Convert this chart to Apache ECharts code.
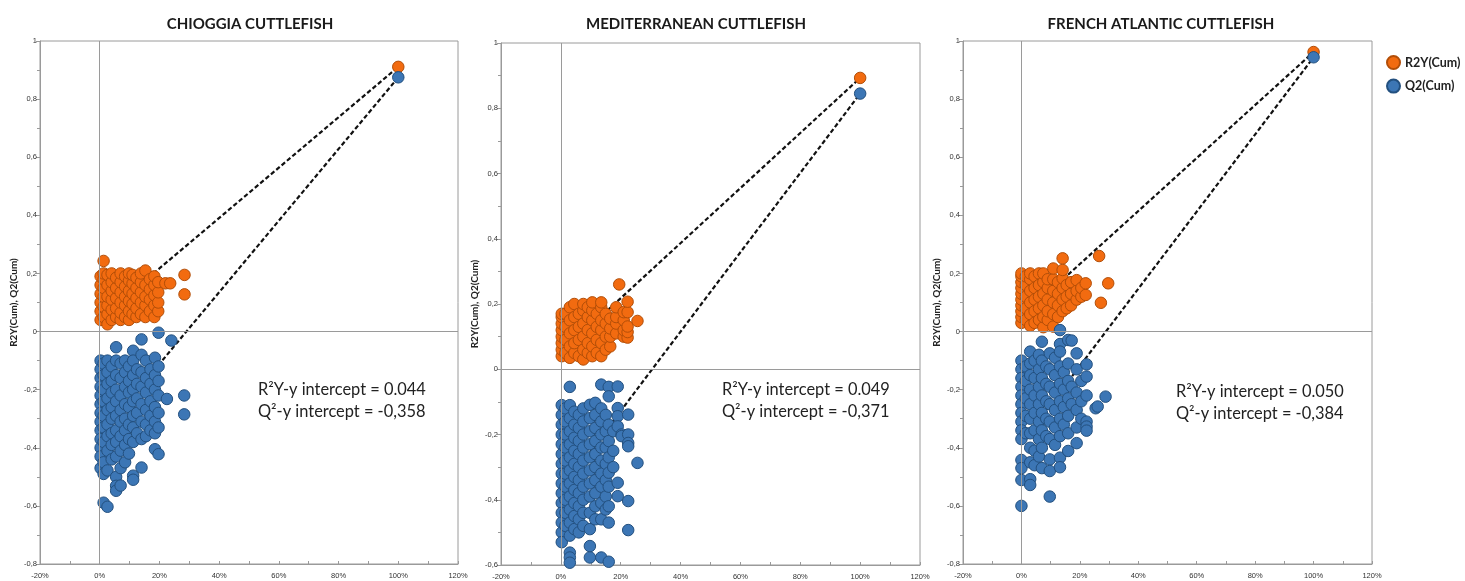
<!DOCTYPE html>
<html>
<head>
<meta charset="utf-8">
<script src="https://cdn.jsdelivr.net/npm/echarts@6/dist/echarts.min.js"></script>
<style>html,body{margin:0;padding:0;background:#fff;}#c{width:1465px;height:581px;}</style>
</head>
<body>
<div id="c"></div>
<script>
// ---------- DATA ----------
const panelTitles = ['CHIOGGIA CUTTLEFISH', 'MEDITERRANEAN CUTTLEFISH', 'FRENCH ATLANTIC CUTTLEFISH'];
const seriesNames = ['R2Y(Cum)', 'Q2(Cum)'];
const yAxisName = 'R2Y(Cum), Q2(Cum)';
const yMins = [-0.8, -0.6, -0.8];

// intercepts [R2Y, Q2]
const chioggiaIntercepts = [0.044, -0.358];
const medIntercepts = [0.049, -0.371];
const atlanticIntercepts = [0.050, -0.384];

// original model [R2Y, Q2] at 100%
const chioggiaOriginal = [0.911, 0.875];
const medOriginal = [0.893, 0.845];
const atlanticOriginal = [0.962, 0.944];

// permutation points: [x (%), [y values]]
const chioggiaR2Y = [
 [0.3,[0.04,0.07,0.10,0.13,0.16,0.19]],
 [1.3,[0.05,0.085,0.12,0.15,0.18,0.20,0.243]],
 [2.6,[0.025,0.06,0.09,0.12,0.16,0.195]],
 [4,[0.04,0.075,0.11,0.14,0.17,0.20]],
 [5.5,[0.05,0.08,0.115,0.15,0.185]],
 [7,[0.04,0.065,0.10,0.135,0.17,0.20]],
 [8.5,[0.05,0.09,0.12,0.155,0.19]],
 [9.8,[0.04,0.07,0.105,0.14,0.175,0.20]],
 [11,[0.06,0.095,0.13,0.165,0.195]],
 [12.3,[0.05,0.08,0.115,0.15,0.185]],
 [13.8,[0.06,0.10,0.135,0.17,0.20]],
 [15.3,[0.05,0.09,0.12,0.16,0.21]],
 [16.8,[0.07,0.11,0.145,0.18]],
 [18.3,[0.05,0.09,0.125,0.16,0.19]],
 [19.6,[0.07,0.10,0.135,0.17]],
 [22,[0.166]],[23.6,[0.166]],[28.4,[0.195,0.128]]
];
const chioggiaQ2 = [
 [0.3,[-0.10,-0.13,-0.16,-0.19,-0.22,-0.25,-0.28,-0.31,-0.34,-0.37,-0.40,-0.43,-0.47]],
 [1.3,[-0.11,-0.15,-0.20,-0.24,-0.29,-0.33,-0.38,-0.45,-0.49,-0.589]],
 [2.6,[-0.10,-0.14,-0.18,-0.23,-0.27,-0.32,-0.36,-0.41,-0.478,-0.603]],
 [4,[-0.12,-0.17,-0.21,-0.26,-0.30,-0.35,-0.39,-0.44]],
 [5.5,[-0.054,-0.10,-0.15,-0.20,-0.24,-0.29,-0.34,-0.38,-0.43,-0.50,-0.531,-0.548]],
 [7,[-0.11,-0.16,-0.22,-0.27,-0.31,-0.36,-0.41,-0.47,-0.53]],
 [8.5,[-0.10,-0.14,-0.19,-0.25,-0.30,-0.34,-0.39,-0.45]],
 [9.8,[-0.12,-0.17,-0.21,-0.26,-0.32,-0.37,-0.42]],
 [11.2,[-0.066,-0.10,-0.15,-0.20,-0.24,-0.29,-0.33,-0.38,-0.496,-0.51]],
 [12.5,[-0.13,-0.18,-0.23,-0.28,-0.35]],
 [14,[-0.027,-0.08,-0.14,-0.19,-0.25,-0.31,-0.37,-0.468]],
 [15.5,[-0.10,-0.16,-0.21,-0.27,-0.32,-0.36]],
 [17,[-0.13,-0.18,-0.24,-0.29,-0.34]],
 [18.5,[-0.09,-0.15,-0.20,-0.26,-0.31,-0.35,-0.405]],
 [19.7,[-0.004,-0.12,-0.17,-0.22,-0.28,-0.33,-0.422]],
 [22.5,[-0.232]],[24,[-0.031]],[28.3,[-0.22,-0.285]]
];
const medR2Y = [
 [0.3,[0.04,0.06,0.08,0.10,0.12,0.14,0.16,0.17]],
 [1.5,[0.05,0.09,0.13,0.17]],
 [3,[0.035,0.07,0.11,0.15,0.19]],
 [4.5,[0.05,0.08,0.12,0.16,0.20]],
 [6,[0.04,0.09,0.13,0.17]],
 [7.5,[0.03,0.06,0.10,0.14,0.18,0.20]],
 [9,[0.05,0.08,0.12,0.16,0.19]],
 [10.5,[0.04,0.07,0.11,0.15,0.18,0.205]],
 [12,[0.05,0.09,0.13,0.17]],
 [13.5,[0.04,0.08,0.12,0.15,0.19,0.205]],
 [15,[0.06,0.10,0.14,0.17]],
 [16.5,[0.07,0.10,0.125,0.155]],
 [18.5,[0.11,0.14,0.16,0.19]],
 [19.5,[0.26]],
 [21,[0.10,0.12,0.15,0.175]],
 [22.3,[0.097,0.114,0.131,0.175,0.207]],
 [25.6,[0.148]]
];
const medQ2 = [
 [0.3,[-0.11,-0.14,-0.17,-0.20,-0.23,-0.26,-0.29,-0.32,-0.35,-0.38,-0.41,-0.44,-0.47,-0.50,-0.53]],
 [1.5,[-0.12,-0.16,-0.20,-0.24,-0.28,-0.32,-0.36,-0.40,-0.44,-0.48]],
 [3,[-0.054,-0.11,-0.15,-0.19,-0.23,-0.27,-0.31,-0.35,-0.39,-0.43,-0.47,-0.51,-0.562,-0.577,-0.593]],
 [4.5,[-0.13,-0.17,-0.21,-0.25,-0.29,-0.33,-0.37,-0.41,-0.45,-0.49]],
 [6,[-0.14,-0.18,-0.22,-0.26,-0.30,-0.34,-0.38,-0.42,-0.46,-0.50]],
 [7.5,[-0.12,-0.16,-0.20,-0.24,-0.28,-0.32,-0.36,-0.40,-0.44,-0.48]],
 [9.7,[-0.109,-0.15,-0.19,-0.23,-0.27,-0.31,-0.35,-0.39,-0.44,-0.49,-0.542,-0.577]],
 [11.5,[-0.103,-0.14,-0.18,-0.22,-0.26,-0.30,-0.34,-0.38,-0.42,-0.46]],
 [13.5,[-0.047,-0.12,-0.16,-0.20,-0.24,-0.28,-0.32,-0.36,-0.41,-0.46,-0.577]],
 [15,[-0.14,-0.19,-0.24,-0.29,-0.34,-0.39,-0.43]],
 [16,[-0.054,-0.083,-0.17,-0.22,-0.27,-0.317,-0.36,-0.42,-0.47,-0.59]],
 [17.5,[-0.19,-0.25,-0.30]],
 [19,[-0.053,-0.119,-0.144,-0.175,-0.348,-0.389]],
 [20.3,[-0.20,-0.205]],
 [22.5,[-0.139,-0.20,-0.226,-0.236,-0.404,-0.493]],
 [25.6,[-0.287]]
];
const atlanticR2Y = [
 [0,[0.03,0.05,0.07,0.09,0.11,0.13,0.15,0.17,0.19,0.20]],
 [1.5,[0.04,0.08,0.12,0.16,0.19]],
 [3,[0.02,0.06,0.10,0.14,0.18,0.20]],
 [4.5,[0.03,0.07,0.11,0.15,0.19]],
 [6,[0.04,0.08,0.12,0.16,0.20]],
 [7.5,[0.015,0.05,0.09,0.13,0.17,0.20]],
 [9,[0.04,0.07,0.11,0.15,0.18]],
 [10.9,[0.017,0.06,0.10,0.14,0.18,0.217]],
 [12.5,[0.05,0.09,0.13,0.17]],
 [14.1,[0.07,0.11,0.15,0.183,0.212,0.252]],
 [15.5,[0.08,0.12,0.16]],
 [17,[0.09,0.13,0.17]],
 [18.9,[0.11,0.14,0.177]],
 [20.5,[0.12,0.15]],
 [22,[0.126,0.166]],
 [26.6,[0.26]],[27.2,[0.099]],[29.7,[0.166]]
];
const atlanticQ2 = [
 [0,[-0.10,-0.13,-0.16,-0.19,-0.22,-0.25,-0.28,-0.31,-0.34,-0.37,-0.442,-0.47,-0.511,-0.60]],
 [1.5,[-0.12,-0.17,-0.23,-0.29,-0.35]],
 [3,[-0.069,-0.11,-0.15,-0.20,-0.25,-0.30,-0.35,-0.40,-0.45,-0.508,-0.528]],
 [4.5,[-0.10,-0.16,-0.22,-0.28,-0.34,-0.41,-0.46]],
 [6,[-0.08,-0.13,-0.19,-0.25,-0.31,-0.37,-0.43]],
 [7,[-0.035,-0.10,-0.16,-0.22,-0.28,-0.34,-0.40,-0.47]],
 [8.5,[-0.12,-0.18,-0.24,-0.30,-0.36]],
 [9.7,[-0.075,-0.13,-0.19,-0.25,-0.31,-0.37,-0.44,-0.48,-0.568]],
 [11.5,[-0.09,-0.15,-0.21,-0.27,-0.33,-0.39]],
 [13.2,[0.005,-0.043,-0.069,-0.12,-0.18,-0.24,-0.30,-0.36,-0.434,-0.467]],
 [14.5,[-0.14,-0.20,-0.26,-0.32]],
 [16,[-0.029,-0.11,-0.17,-0.23,-0.29,-0.35,-0.411]],
 [17.2,[-0.031,-0.19,-0.25]],
 [18.9,[-0.075,-0.13,-0.21,-0.27,-0.33,-0.384]],
 [20.5,[-0.17,-0.24,-0.30]],
 [22.3,[-0.113,-0.155,-0.22,-0.31,-0.327,-0.341]],
 [25.4,[-0.264]],[26.1,[-0.258]],[28.8,[-0.224]]
];

// ---------- BUILD ----------
const panels = [
 {r2: chioggiaR2Y, q2: chioggiaQ2, icpt: chioggiaIntercepts, orig: chioggiaOriginal},
 {r2: medR2Y, q2: medQ2, icpt: medIntercepts, orig: medOriginal},
 {r2: atlanticR2Y, q2: atlanticQ2, icpt: atlanticIntercepts, orig: atlanticOriginal}
];
const grids = [
 {left: 40, top: 41, width: 418, height: 523},
 {left: 501, top: 43, width: 419, height: 523},
 {left: 963, top: 41, width: 409, height: 523}
];
const titleX = [245, 691, 1156];
const annot = [[258, 379], [722, 379], [1176, 381]];

const ORANGE = '#F26B10', ORANGE_B = '#B24E08';
const BLUE = '#3C76B5', BLUE_B = '#23507F';
const AXC = '#9a9a9a';
const FONT = 'Lato, "Open Sans", sans-serif';

function flatten(cols) {
  const out = [];
  cols.forEach(([x, ys]) => ys.forEach(y => out.push([x, y])));
  return out;
}

const option = {
  backgroundColor: '#fff',
  animation: false,
  title: panelTitles.map((t, i) => ({
    text: t, left: titleX[i], top: 12, textAlign: 'center',
    textStyle: {fontFamily: FONT, fontWeight: 'bold', fontSize: 15, color: '#1a1a1a'}
  })),
  legend: {
    data: seriesNames, orient: 'vertical', left: 1381, top: 50,
    icon: 'circle', itemWidth: 13, itemHeight: 13, itemGap: 8.6,
    textStyle: {fontFamily: FONT, fontWeight: 'bold', fontSize: 12.5, color: '#222'}
  },
  grid: grids.map(g => Object.assign({show: true, borderColor: AXC, borderWidth: 1, backgroundColor: '#fff'}, g)),
  xAxis: grids.map((g, i) => ({
    type: 'value', gridIndex: i, min: -20, max: 120, interval: 20,
    axisLine: {show: true, onZero: false, lineStyle: {color: AXC}},
    axisTick: {show: true, inside: true, length: 3, lineStyle: {color: AXC}},
    minorTick: {show: true, splitNumber: 2, length: 3, lineStyle: {color: AXC}},
    splitLine: {show: false},
    axisLabel: {formatter: v => v + '%', fontSize: 7.5, color: '#333', fontFamily: '"Liberation Sans", sans-serif', margin: 8}
  })),
  yAxis: grids.map((g, i) => ({
    type: 'value', gridIndex: i, min: yMins[i], max: 1, interval: 0.2,
    name: yAxisName, nameLocation: 'middle', nameGap: 21, nameRotate: 90,
    nameTextStyle: {fontFamily: FONT, fontWeight: 'bold', fontSize: 10, color: '#222'},
    axisLine: {show: true, onZero: false, lineStyle: {color: AXC}},
    axisTick: {show: true, length: 4, lineStyle: {color: AXC}},
    minorTick: {show: true, splitNumber: 2, length: 3, lineStyle: {color: AXC}},
    splitLine: {show: false},
    axisLabel: {formatter: v => String(+v.toFixed(1)).replace('.', ','), fontSize: 7.5, color: '#333', fontFamily: '"Liberation Sans", sans-serif', margin: 3}
  })),
  series: [],
  graphic: []
};

panels.forEach((p, i) => {
  option.series.push({
    type: 'line', xAxisIndex: i, yAxisIndex: i, z: 1, symbol: 'none', silent: true,
    data: [[0, p.icpt[0]], [100, p.orig[0]]],
    lineStyle: {color: '#111', width: 2.2, type: [4.5, 2.5]},
    markLine: {
      silent: true, symbol: 'none', label: {show: false},
      lineStyle: {color: AXC, width: 1, type: 'solid'},
      data: [{xAxis: 0}, {yAxis: 0}]
    }
  });
  option.series.push({
    type: 'line', xAxisIndex: i, yAxisIndex: i, z: 1, symbol: 'none', silent: true,
    data: [[0, p.icpt[1]], [100, p.orig[1]]],
    lineStyle: {color: '#111', width: 2.2, type: [4.5, 2.5]}
  });
  option.series.push({
    name: seriesNames[0], type: 'scatter', xAxisIndex: i, yAxisIndex: i, z: 3,
    symbol: 'circle', symbolSize: 11.5,
    itemStyle: {color: ORANGE, borderColor: ORANGE_B, borderWidth: 1, opacity: 1},
    data: flatten(p.r2).concat([[100, p.orig[0]]])
  });
  option.series.push({
    name: seriesNames[1], type: 'scatter', xAxisIndex: i, yAxisIndex: i, z: 3,
    symbol: 'circle', symbolSize: 11.5,
    itemStyle: {color: BLUE, borderColor: BLUE_B, borderWidth: 1, opacity: 1},
    data: flatten(p.q2).concat([[100, p.orig[1]]])
  });
  option.graphic.push({
    type: 'text', left: annot[i][0], top: annot[i][1], z: 10,
    style: {
      text: 'R²Y-y intercept = ' + p.icpt[0].toFixed(3) + '\nQ²-y intercept = ' + p.icpt[1].toFixed(3).replace('.', ','),
      font: '16.4px ' + FONT, fill: '#222', lineHeight: 22
    }
  });
});

const chart = echarts.init(document.getElementById('c'), null, {renderer: 'canvas'});
chart.setOption(option);
</script>
</body>
</html>
